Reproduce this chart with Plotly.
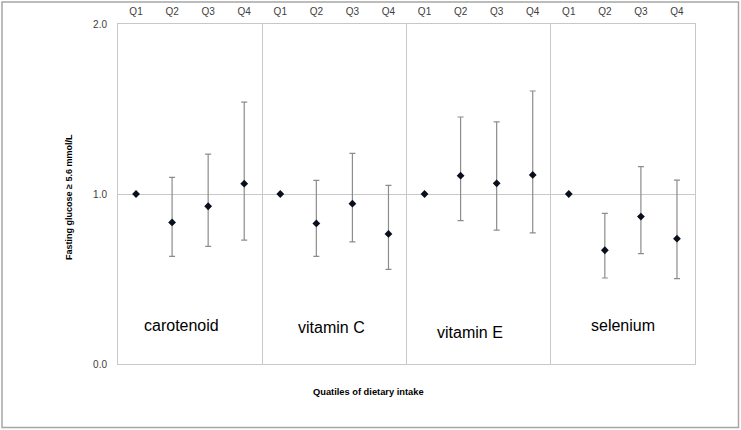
import plotly.graph_objects as go

groups = ["carotenoid", "vitamin C", "vitamin E", "selenium"]
quartiles = ["Q1", "Q2", "Q3", "Q4"]

carotenoid_or = [1.00, 0.833, 0.928, 1.061]
carotenoid_lo = [1.00, 0.633, 0.692, 0.729]
carotenoid_hi = [1.00, 1.098, 1.235, 1.540]

vitaminC_or = [1.00, 0.827, 0.943, 0.765]
vitaminC_lo = [1.00, 0.633, 0.718, 0.557]
vitaminC_hi = [1.00, 1.080, 1.239, 1.051]

vitaminE_or = [1.00, 1.108, 1.063, 1.112]
vitaminE_lo = [1.00, 0.843, 0.788, 0.771]
vitaminE_hi = [1.00, 1.453, 1.424, 1.606]

selenium_or = [1.00, 0.669, 0.867, 0.737]
selenium_lo = [1.00, 0.506, 0.649, 0.502]
selenium_hi = [1.00, 0.886, 1.161, 1.082]

# group label anchor (x in category units, y in axis units)
label_x = [1.25, 5.43, 9.25, 13.5]
label_y = [0.229, 0.212, 0.188, 0.224]

series = [
    (carotenoid_or, carotenoid_lo, carotenoid_hi),
    (vitaminC_or, vitaminC_lo, vitaminC_hi),
    (vitaminE_or, vitaminE_lo, vitaminE_hi),
    (selenium_or, selenium_lo, selenium_hi),
]

W, H = 741, 430
L, R, T, B = 118, 46, 24, 66
pw, ph = W - L - R, H - T - B
GRID = "#c8c8c8"

xs, ys, ep, em, ticktext = [], [], [], [], []
i = 0
for (orv, lo, hi) in series:
    for k in range(len(orv)):
        xs.append(i)
        ys.append(orv[k])
        ep.append(hi[k] - orv[k])
        em.append(orv[k] - lo[k])
        ticktext.append(quartiles[k])
        i += 1

fig = go.Figure()
fig.add_trace(go.Scatter(
    x=xs, y=ys, mode="markers",
    marker=dict(symbol="diamond", size=6, color="#0a0f1e"),
    error_y=dict(type="data", symmetric=False, array=ep, arrayminus=em,
                 color="#8c8c8c", thickness=1.2, width=3),
    showlegend=False, hoverinfo="skip",
))

# group boundaries
bounds = [-0.5]
acc = -0.5
for (orv, lo, hi) in series:
    acc += len(orv)
    bounds.append(acc)

fig.add_trace(go.Scatter(x=[bounds[0], bounds[-1]], y=[0, 0], xaxis="x2",
                         mode="markers", marker=dict(opacity=0),
                         showlegend=False, hoverinfo="skip"))

annotations = []
for gi, g in enumerate(groups):
    annotations.append(dict(x=label_x[gi], y=label_y[gi], xref="x", yref="y",
                            text=g, showarrow=False,
                            font=dict(family="Liberation Sans", size=16, color="#000")))

annotations.append(dict(x=(368 - L) / pw, y=(H - 399 - B) / ph, xref="paper", yref="paper",
                        text="<b>Quatiles of dietary intake</b>", showarrow=False,
                        font=dict(family="Liberation Sans", size=9.3, color="#000")))
annotations.append(dict(x=(62 - L) / pw, y=(H - 197 - B) / ph, xref="paper", yref="paper",
                        text="<b>Fasting glucose ≥ 5.6 mmol/L</b>", showarrow=False,
                        textangle=-90,
                        font=dict(family="Liberation Sans", size=9, color="#000")))

fig.update_layout(
    width=W, height=H,
    margin=dict(l=L, r=R, t=T, b=B, autoexpand=False),
    paper_bgcolor="white", plot_bgcolor="white",
    xaxis=dict(range=[bounds[0], bounds[-1]], tickvals=xs, ticktext=ticktext,
               side="top", showgrid=False, zeroline=False,
               showline=True, mirror=True, linecolor=GRID, linewidth=1,
               automargin=False, ticks="", ticklabelstandoff=4,
               tickfont=dict(family="Liberation Sans", size=10, color="#404040")),
    xaxis2=dict(range=[bounds[0], bounds[-1]], overlaying="x", tickvals=bounds,
                showticklabels=False, showgrid=True, gridcolor=GRID, gridwidth=1,
                zeroline=False, showline=False, ticks="", automargin=False),
    yaxis=dict(range=[0, 2], dtick=1, tickformat=".1f", showgrid=True,
               gridcolor=GRID, gridwidth=1, zeroline=False,
               showline=True, mirror=True, linecolor=GRID, linewidth=1,
               ticks="", automargin=False, ticklabelstandoff=8,
               tickfont=dict(family="Liberation Sans", size=10, color="#404040")),
    annotations=annotations,
    shapes=[dict(type="rect", xref="paper", yref="paper",
                 x0=(2 - L) / pw, x1=(738.5 - L) / pw,
                 y0=(H - 427.5 - B) / ph, y1=(H - 2 - B) / ph,
                 line=dict(color="#a6a6a6", width=1.5), layer="below")],
)

fig.write_html("out.html", config={"displayModeBar": False},
               post_script="document.body.style.margin='0';")
